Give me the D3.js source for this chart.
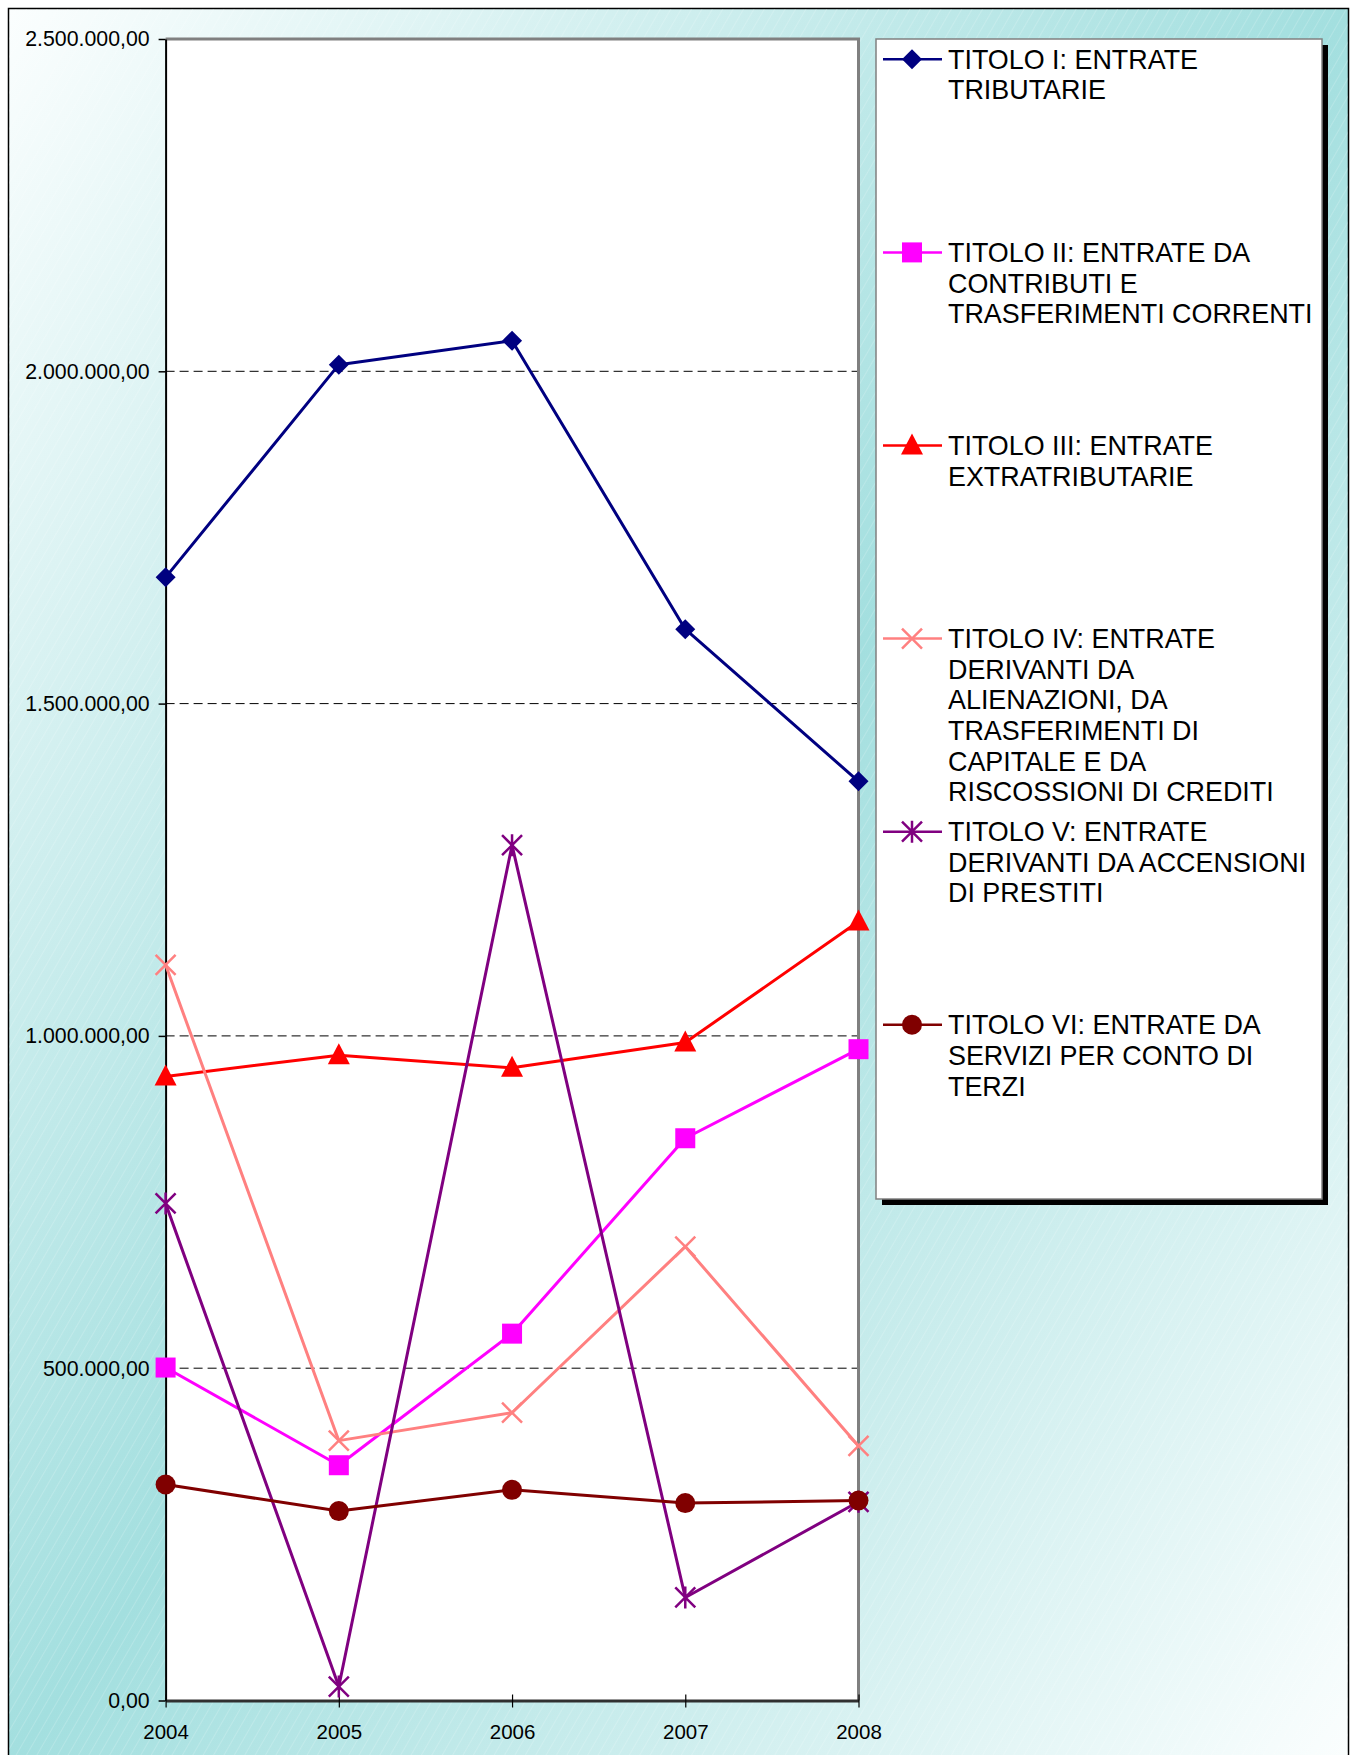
<!DOCTYPE html>
<html>
<head>
<meta charset="utf-8">
<script src="https://cdn.jsdelivr.net/npm/d3@7"></script>
<style>
html,body{margin:0;padding:0;background:#fff;}
svg{display:block;}
text{font-family:"Liberation Sans",Arial,sans-serif;}
</style>
</head>
<body>
<svg id="chart" width="1352" height="1755"></svg>
<script>
// ---------- DATA ----------
const years = ["2004","2005","2006","2007","2008"];
const titoloI   = [1690000, 2010000, 2046000, 1612000, 1383000];
const titoloII  = [501000, 354000, 552000, 846000, 980000];
const titoloIII = [939000, 971000, 952000, 990000, 1172000];
const titoloIV  = [1107000, 391000, 433000, 683000, 383000];
const titoloV   = [748000, 21000, 1287000, 155000, 299000];
const titoloVI  = [325000, 285000, 317000, 297000, 301000];
const yTickValues = [0, 500000, 1000000, 1500000, 2000000, 2500000];
const yTickLabels = ["0,00","500.000,00","1.000.000,00","1.500.000,00","2.000.000,00","2.500.000,00"];
const seriesNames = [
  ["TITOLO I: ENTRATE","TRIBUTARIE"],
  ["TITOLO II: ENTRATE DA","CONTRIBUTI E","TRASFERIMENTI CORRENTI"],
  ["TITOLO III: ENTRATE","EXTRATRIBUTARIE"],
  ["TITOLO IV: ENTRATE","DERIVANTI DA","ALIENAZIONI, DA","TRASFERIMENTI DI","CAPITALE E DA","RISCOSSIONI DI CREDITI"],
  ["TITOLO V: ENTRATE","DERIVANTI DA ACCENSIONI","DI PRESTITI"],
  ["TITOLO VI: ENTRATE DA","SERVIZI PER CONTO DI","TERZI"]
];
const seriesValues = [titoloI, titoloII, titoloIII, titoloIV, titoloV, titoloVI];
const seriesColors = ["#000080","#FF00FF","#FF0000","#FF8080","#800080","#800000"];
const seriesMarkers = ["diamond","square","triangle","x","star","circle"];

// ---------- LAYOUT ----------
const W = 1352, H = 1755;
const plot = {left:165.6, right:858.5, top:39, bottom:1700.5};
const svg = d3.select("#chart");
const defs = svg.append("defs");

const grad = defs.append("linearGradient").attr("id","bg")
  .attr("x1","0").attr("y1","0").attr("x2","1").attr("y2","1");
grad.append("stop").attr("offset","0").attr("stop-color","#fbfefe");
grad.append("stop").attr("offset","0.5").attr("stop-color","#a3dfdf");
grad.append("stop").attr("offset","1").attr("stop-color","#fbfefe");

const pat = defs.append("pattern").attr("id","hatch")
  .attr("width",9).attr("height",9).attr("patternUnits","userSpaceOnUse")
  .attr("patternTransform","rotate(30)");
pat.append("line").attr("x1",0).attr("y1",0).attr("x2",0).attr("y2",9)
  .attr("stroke","#ffffff").attr("stroke-width",1).attr("stroke-opacity",0.35);

// background frame
svg.append("rect").attr("x",8.5).attr("y",8.5).attr("width",1340).attr("height",H)
  .attr("fill","url(#bg)").attr("stroke","#000").attr("stroke-width",1.5);
svg.append("rect").attr("x",9).attr("y",9).attr("width",1339).attr("height",H)
  .attr("fill","url(#hatch)");

// plot area
svg.append("rect").attr("x",plot.left).attr("y",plot.top)
  .attr("width",plot.right-plot.left).attr("height",plot.bottom-plot.top)
  .attr("fill","#fff");

// scales
const x = d3.scalePoint().domain(years).range([plot.left, plot.right]).padding(0);
const y = d3.scaleLinear().domain([0, 2500000]).range([plot.bottom, plot.top]);

// gridlines
svg.append("g").selectAll("line")
  .data(yTickValues.filter(v => v > 0 && v < 2500000))
  .join("line")
  .attr("x1",plot.left).attr("x2",plot.right)
  .attr("y1",d=>y(d)).attr("y2",d=>y(d))
  .attr("stroke","#000").attr("stroke-width",1).attr("stroke-dasharray","9,5");

// plot border (top/right gray)
svg.append("path")
  .attr("d",`M${plot.left},${plot.top}H${plot.right}V${plot.bottom}`)
  .attr("fill","none").attr("stroke","#808080").attr("stroke-width",3);

// y axis
const yAxis = d3.axisLeft(y).tickValues(yTickValues)
  .tickFormat((d,i)=>yTickLabels[i]).tickSizeInner(7).tickSizeOuter(0).tickPadding(9);
const gy = svg.append("g").attr("transform",`translate(${plot.left},0)`).call(yAxis);
gy.select(".domain").attr("stroke","#000").attr("stroke-width",2);
gy.selectAll(".tick line").attr("stroke","#000").attr("stroke-width",1.5);
gy.selectAll(".tick text").attr("font-size",21.3).attr("fill","#000")
  .attr("font-family","'Liberation Sans',Arial,sans-serif");

// x axis
const xAxis = d3.axisBottom(x).tickSizeInner(6).tickSizeOuter(0).tickPadding(18);
const gx = svg.append("g").attr("transform",`translate(0,${plot.bottom})`).call(xAxis);
gx.select(".domain").attr("stroke","#303030").attr("stroke-width",3);
gx.selectAll(".tick line").attr("y1",-6).attr("y2",7).attr("stroke","#000").attr("stroke-width",1.2);
gx.selectAll(".tick text").attr("font-size",20.5).attr("fill","#000")
  .attr("font-family","'Liberation Sans',Arial,sans-serif");

// marker drawing
function drawMarker(g, type, color, cx, cy) {
  if (type === "diamond") {
    g.append("path").attr("d",`M${cx},${cy-10}L${cx+10},${cy}L${cx},${cy+10}L${cx-10},${cy}Z`)
      .attr("fill",color);
  } else if (type === "square") {
    g.append("rect").attr("x",cx-10).attr("y",cy-10).attr("width",20).attr("height",20)
      .attr("fill",color);
  } else if (type === "triangle") {
    g.append("path").attr("d",`M${cx},${cy-12}L${cx+11},${cy+9}L${cx-11},${cy+9}Z`)
      .attr("fill",color);
  } else if (type === "x") {
    g.append("path").attr("d",`M${cx-10},${cy-10}L${cx+10},${cy+10}M${cx+10},${cy-10}L${cx-10},${cy+10}`)
      .attr("stroke",color).attr("stroke-width",2.5).attr("fill","none");
  } else if (type === "star") {
    g.append("path").attr("d",`M${cx-10},${cy-10}L${cx+10},${cy+10}M${cx+10},${cy-10}L${cx-10},${cy+10}M${cx},${cy-11}L${cx},${cy+11}`)
      .attr("stroke",color).attr("stroke-width",2.5).attr("fill","none");
  } else if (type === "circle") {
    g.append("circle").attr("cx",cx).attr("cy",cy).attr("r",10).attr("fill",color);
  }
}

// series
const line = d3.line().x((d,i)=>x(years[i])).y(d=>y(d));
seriesValues.forEach((vals, si) => {
  const g = svg.append("g");
  g.append("path").attr("d",line(vals)).attr("fill","none")
    .attr("stroke",seriesColors[si]).attr("stroke-width",3).attr("stroke-linejoin","round");
  vals.forEach((v,i) => drawMarker(g, seriesMarkers[si], seriesColors[si], x(years[i]), y(v)));
});

// legend
const lg = {x:876, y:39, w:446, h:1160};
svg.append("rect").attr("x",lg.x+6).attr("y",lg.y+6).attr("width",lg.w).attr("height",lg.h).attr("fill","#000");
svg.append("rect").attr("x",lg.x).attr("y",lg.y).attr("width",lg.w).attr("height",lg.h)
  .attr("fill","#fff").attr("stroke","#808080").attr("stroke-width",1.5);
const itemY0 = 59.3, itemStep = 193.1;
seriesNames.forEach((lines, si) => {
  const cy = itemY0 + si*itemStep;
  const g = svg.append("g");
  g.append("line").attr("x1",883).attr("x2",942).attr("y1",cy).attr("y2",cy)
    .attr("stroke",seriesColors[si]).attr("stroke-width",2.5);
  drawMarker(g, seriesMarkers[si], seriesColors[si], 912, cy);
  const t = g.append("text").attr("x",948).attr("y",cy+9.5)
    .attr("font-size",26.9).attr("fill","#000");
  lines.forEach((ln, li) => {
    t.append("tspan").attr("x",948).attr("dy", li===0 ? 0 : 30.6).text(ln);
  });
});
</script>
</body>
</html>
